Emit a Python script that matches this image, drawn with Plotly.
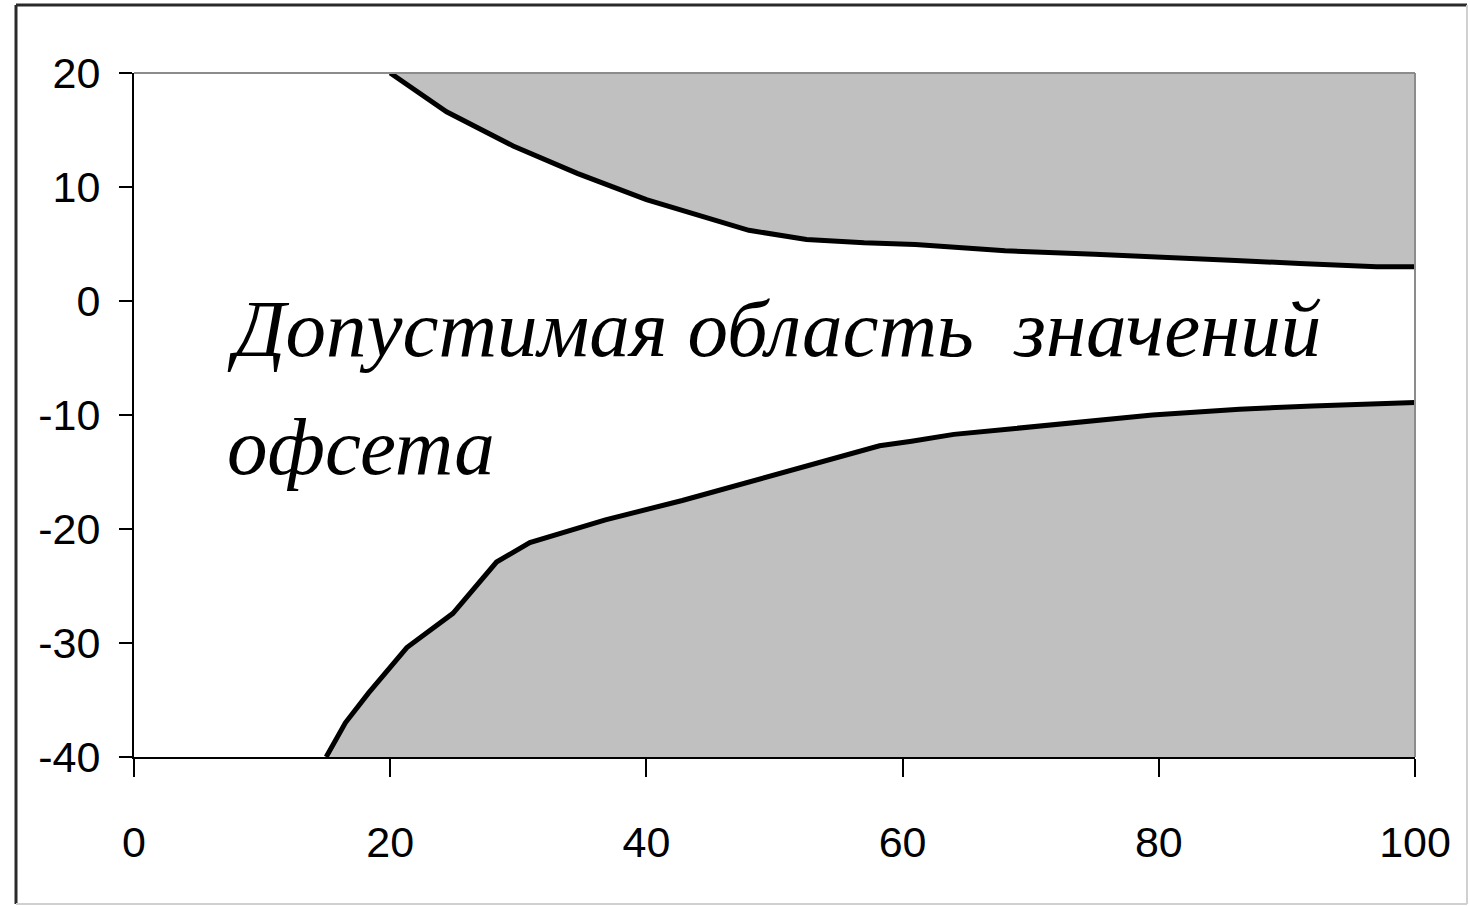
import plotly.graph_objects as go

# Upper boundary of the admissible offset region
upper_x = [20, 24.4, 29.6, 34.6, 40, 44, 48, 52.5, 57, 61, 64, 68, 75, 82, 86, 91, 97, 100]
upper_y = [20, 16.6, 13.6, 11.2, 8.9, 7.5, 6.2, 5.4, 5.1, 4.95, 4.7, 4.4, 4.1, 3.8, 3.55, 3.3, 3.0, 3.0]

# Lower boundary of the admissible offset region
lower_x = [15, 16.5, 18.3, 21.3, 24.9, 28.3, 30.9, 36.8, 42.8, 51.8, 58.2, 60.7, 64, 68.6, 74, 79.5, 86.3, 92, 100]
lower_y = [-40, -37, -34.4, -30.4, -27.4, -22.9, -21.2, -19.2, -17.5, -14.7, -12.7, -12.3, -11.7, -11.2, -10.6, -10.0, -9.5, -9.2, -8.9]

x_ticks = [0, 20, 40, 60, 80, 100]
y_ticks = [-40, -30, -20, -10, 0, 10, 20]
Y_MIN, Y_MAX = -40, 20
X_MIN, X_MAX = 0, 100

label_line1 = "Допустимая область  значений"
label_line2 = "офсета"

GRAY = "#c0c0c0"

fig = go.Figure()

# upper filled region (curve up to top of axis)
fig.add_trace(go.Scatter(x=upper_x, y=[Y_MAX] * len(upper_x), mode="lines",
                         line=dict(width=0), showlegend=False, hoverinfo="skip"))
fig.add_trace(go.Scatter(x=upper_x, y=upper_y, mode="lines", fill="tonexty",
                         fillcolor=GRAY, line=dict(color="black", width=5),
                         showlegend=False))
# lower filled region (curve down to bottom of axis)
fig.add_trace(go.Scatter(x=lower_x, y=[Y_MIN] * len(lower_x), mode="lines",
                         line=dict(width=0), showlegend=False, hoverinfo="skip"))
fig.add_trace(go.Scatter(x=lower_x, y=lower_y, mode="lines", fill="tonexty",
                         fillcolor=GRAY, line=dict(color="black", width=5),
                         showlegend=False))

tick_font = dict(family="Liberation Sans, Arial, sans-serif", size=43, color="black")

fig.update_layout(
    width=1470, height=906,
    margin=dict(l=134, r=55, t=73, b=149),
    paper_bgcolor="white", plot_bgcolor="white",
    showlegend=False,
    xaxis=dict(range=[X_MIN, X_MAX], tickvals=x_ticks, ticktext=[str(v) for v in x_ticks],
               showgrid=False, zeroline=False, showline=True, linecolor="black", linewidth=2,
               ticks="outside", ticklen=18, tickwidth=2, tickcolor="black",
               tickfont=tick_font, ticklabelstandoff=28, fixedrange=True),
    yaxis=dict(range=[Y_MIN, Y_MAX], tickvals=y_ticks, ticktext=[str(v) for v in y_ticks],
               showgrid=False, zeroline=False, showline=True, linecolor="black", linewidth=2,
               ticks="outside", ticklen=13, tickwidth=2, tickcolor="black",
               tickfont=tick_font, ticklabelstandoff=10, fixedrange=True),
)

# plot-area border (top and right, thin gray)
fig.add_shape(type="line", xref="paper", yref="paper", x0=0, x1=1, y0=1, y1=1,
              line=dict(color="#8c8c8c", width=2))
fig.add_shape(type="line", xref="paper", yref="paper", x0=1, x1=1, y0=0, y1=1,
              line=dict(color="#8c8c8c", width=2))

# outer chart-area frame
pw, ph = 1281.0, 684.0
fx0, fx1 = (16 - 134) / pw, (1467 - 134) / pw
fy0, fy1 = (757 - 904) / ph, (757 - 5) / ph
fig.add_shape(type="line", xref="paper", yref="paper", x0=fx0, x1=fx0, y0=fy0, y1=fy1,
              line=dict(color="#2a2a2a", width=3))
fig.add_shape(type="line", xref="paper", yref="paper", x0=fx0, x1=fx1, y0=fy1, y1=fy1,
              line=dict(color="#2a2a2a", width=3))
fig.add_shape(type="line", xref="paper", yref="paper", x0=fx1, x1=fx1, y0=fy0, y1=fy1,
              line=dict(color="#d0d0d0", width=2))
fig.add_shape(type="line", xref="paper", yref="paper", x0=fx0, x1=fx1, y0=fy0, y1=fy0,
              line=dict(color="#d0d0d0", width=2))

text_font = dict(family="Liberation Serif, Times New Roman, serif", size=81, color="black")
fig.add_annotation(x=7.1, y=-2.45, xref="x", yref="y", text=f"<i>{label_line1}</i>",
                   showarrow=False, xanchor="left", yanchor="middle", font=text_font)
fig.add_annotation(x=7.1, y=-12.85, xref="x", yref="y", text=f"<i>{label_line2}</i>",
                   showarrow=False, xanchor="left", yanchor="middle", font=text_font)

fig.write_html("out.html", config={"displayModeBar": False},
               post_script="document.body.style.margin='0';document.body.style.overflow='hidden';")
